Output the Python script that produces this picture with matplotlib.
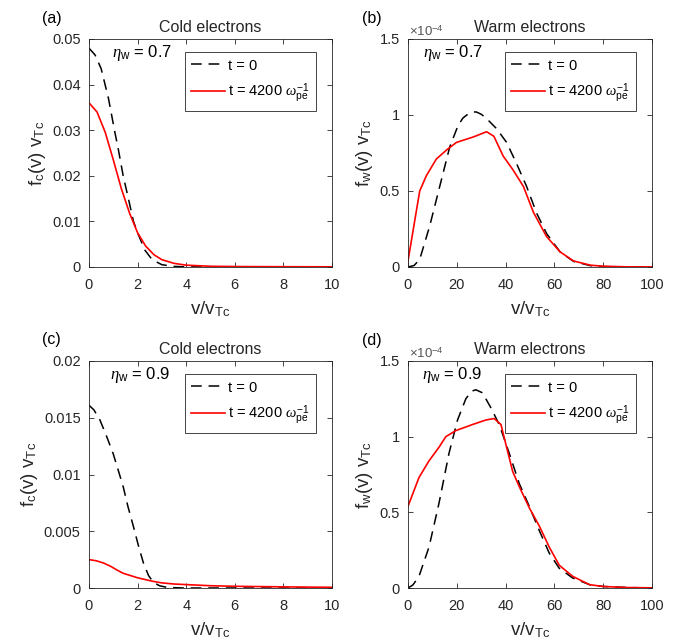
import numpy as np
import matplotlib.pyplot as plt

plt.rcParams['font.family'] = ['Liberation Sans', 'DejaVu Sans']
plt.rcParams['mathtext.fontset'] = 'custom'
plt.rcParams['mathtext.rm'] = 'Liberation Sans'
plt.rcParams['mathtext.it'] = 'Liberation Serif:italic'

# cold electrons, eta_w = 0.7
vc_a0 = [0, 0.25, 0.5, 0.8, 1.07, 1.2, 1.41, 1.6, 1.83, 2.0, 2.3, 2.6, 3.0, 3.5, 4.0, 5.0, 6.0, 8.0, 10.0]
fc_a0 = [0.048, 0.0465, 0.0435, 0.037, 0.0294, 0.026, 0.0199, 0.0155, 0.0100, 0.0075, 0.0037, 0.0016, 0.0005, 0.00012, 0.00003, 0.0, 0.0, 0.0, 0.0]
vc_a1 = [0, 0.33, 0.67, 1.0, 1.33, 1.67, 2.0, 2.33, 2.67, 3.0, 3.5, 4.0, 5.0, 6.0, 8.0, 10.0]
fc_a1 = [0.036, 0.034, 0.0295, 0.0235, 0.0172, 0.0118, 0.0075, 0.0046, 0.0027, 0.0016, 0.0008, 0.0004, 0.00016, 0.0001, 0.00006, 0.00004]

# warm electrons, eta_w = 0.7 (units of 1e-4)
vw_b0 = [0, 2.5, 4.8, 8.9, 13.0, 17.1, 20.5, 22.5, 24.5, 26.5, 28.0, 30.0, 32.0, 36.3, 40.4, 44.5, 48.6, 52.7, 56.8, 62.3, 67.8, 74.7, 80, 90, 100]
fw_b0 = [0, 0.01, 0.05, 0.27, 0.53, 0.79, 0.93, 0.98, 1.005, 1.02, 1.02, 1.005, 0.98, 0.91, 0.82, 0.68, 0.53, 0.355, 0.22, 0.10, 0.037, 0.009, 0.003, 0.0005, 0]
vw_b1 = [0, 2.5, 4.8, 7.5, 11.6, 15.8, 19.9, 26.7, 32.2, 35.2, 39.0, 43.0, 47.3, 51.4, 56.8, 62.3, 67.8, 74.7, 80, 90, 100]
fw_b1 = [0.04, 0.28, 0.50, 0.60, 0.71, 0.77, 0.82, 0.855, 0.89, 0.86, 0.73, 0.64, 0.53, 0.36, 0.20, 0.10, 0.04, 0.012, 0.005, 0.001, 0.0005]

# cold electrons, eta_w = 0.9
vc_c0 = [0, 0.2, 0.45, 0.7, 1.0, 1.2, 1.41, 1.6, 1.83, 2.05, 2.24, 2.45, 2.65, 2.9, 3.2, 3.6, 4.0, 5.0, 6.0, 8.0, 10.0]
fc_c0 = [0.0161, 0.0157, 0.0148, 0.0135, 0.0118, 0.0104, 0.0089, 0.0072, 0.0054, 0.0036, 0.0022, 0.0011, 0.0005, 0.0002, 0.00006, 0.00002, 0.0, 0.0, 0.0, 0.0, 0.0]
vc_c1 = [0, 0.3, 0.6, 0.9, 1.14, 1.4, 1.7, 2.0, 2.3, 2.6, 3.0, 3.5, 4.0, 5.0, 6.0, 8.0, 10.0]
fc_c1 = [0.0025, 0.0024, 0.0022, 0.0019, 0.0016, 0.0013, 0.0011, 0.0009, 0.00075, 0.0006, 0.00045, 0.00035, 0.0003, 0.0002, 0.00015, 0.0001, 0.00006]

# warm electrons, eta_w = 0.9 (units of 1e-4)
vw_d0 = [0, 2.0, 4.5, 8.6, 12.7, 16.8, 20.3, 23.7, 26.0, 27.8, 30.5, 34.0, 37.4, 41.5, 45.6, 49.7, 53.8, 57.9, 62.0, 67.5, 74.4, 80, 90, 100]
fw_d0 = [0, 0.02, 0.077, 0.27, 0.56, 0.89, 1.11, 1.25, 1.30, 1.31, 1.29, 1.19, 1.08, 0.89, 0.69, 0.54, 0.38, 0.23, 0.13, 0.066, 0.022, 0.01, 0.003, 0]
vw_d1 = [0, 4.5, 8.6, 12.7, 15.5, 19.6, 26.4, 31.9, 35.3, 38.1, 40.1, 42.9, 45.6, 49.7, 53.8, 57.9, 62.0, 67.5, 74.4, 80, 90, 100]
fw_d1 = [0.54, 0.73, 0.84, 0.93, 1.0, 1.04, 1.08, 1.11, 1.12, 1.08, 0.95, 0.77, 0.67, 0.53, 0.41, 0.27, 0.15, 0.077, 0.022, 0.01, 0.003, 0.001]

panels = [
    ('(a)', 'Cold electrons', '0.7', 'c', vc_a0, fc_a0, vc_a1, fc_a1, 10, 0.05, [0, 0.01, 0.02, 0.03, 0.04, 0.05], ['0', '0.01', '0.02', '0.03', '0.04', '0.05'], False, 0.095),
    ('(b)', 'Warm electrons', '0.7', 'w', vw_b0, fw_b0, vw_b1, fw_b1, 100, 1.5, [0, 0.5, 1, 1.5], ['0', '0.5', '1', '1.5'], True, 0.06),
    ('(c)', 'Cold electrons', '0.9', 'c', vc_c0, fc_c0, vc_c1, fc_c1, 10, 0.02, [0, 0.005, 0.01, 0.015, 0.02], ['0', '0.005', '0.01', '0.015', '0.02'], False, 0.086),
    ('(d)', 'Warm electrons', '0.9', 'w', vw_d0, fw_d0, vw_d1, fw_d1, 100, 1.5, [0, 0.5, 1, 1.5], ['0', '0.5', '1', '1.5'], True, 0.057),
]

rects = [
    [89 / 681, 1 - 267 / 642, 243 / 681, 228 / 642],
    [408 / 681, 1 - 267 / 642, 244 / 681, 228 / 642],
    [89 / 681, 1 - 588 / 642, 243 / 681, 227 / 642],
    [408 / 681, 1 - 588 / 642, 244 / 681, 227 / 642],
]
letter_pos = [(42, 18), (362, 18), (42, 340), (362, 341)]

fig = plt.figure(figsize=(6.81, 6.42), dpi=100)
axcol = '#262626'

for p, rect, lp in zip(panels, rects, letter_pos):
    letter, title, eta, sub, x0, y0, x1, y1, xmax, ymax, yt, ytl, scaled, etax = p
    ax = fig.add_axes(rect)
    ax.plot(x0, y0, color='k', ls=(0, (7, 4.5)), lw=1.1, label='t = 0')
    ax.plot(x1, y1, color='r', lw=1.2, label=r't = 4200 $\omega_\mathregular{pe}^\mathregular{-1}$')
    ax.set_xlim(0, xmax)
    ax.set_ylim(0, ymax)
    ax.set_xticks(np.linspace(0, xmax, 6))
    ax.set_xticklabels([f'{v:g}' for v in np.linspace(0, xmax, 6)])
    ax.set_yticks(yt)
    ax.set_yticklabels(ytl)
    ax.tick_params(direction='in', length=3.5, width=0.6, colors=axcol, labelsize=10.5,
                   top=True, right=True)
    ax.tick_params(axis='x', pad=8)
    ax.tick_params(axis='y', pad=6)
    for s in ax.spines.values():
        s.set_color(axcol)
        s.set_linewidth(0.6)
    ax.set_title(title, fontsize=11.5, color=axcol, pad=5)
    ax.set_xlabel(r'v/v$_\mathregular{Tc}$', fontsize=13.5, color=axcol, labelpad=5)
    ax.set_ylabel(r'f$_\mathregular{%s}$(v) v$_\mathregular{Tc}$' % sub, fontsize=13.5, color=axcol, labelpad=3)
    ax.text(etax, 0.94, r'$\eta_\mathregular{w}$ = ' + eta, transform=ax.transAxes,
            fontsize=12, va='center', ha='left', color='k')
    if scaled:
        ax.text(0.005, 1.0, r'$\times$10$^\mathregular{-4}$', transform=ax.transAxes,
                fontsize=9.5, va='bottom', ha='left', color='#555555')
    leg = ax.legend(loc='upper right', bbox_to_anchor=(0.934, 0.943), borderaxespad=0,
                    fontsize=10.5, fancybox=False, framealpha=1, edgecolor=axcol,
                    handlelength=2.3, borderpad=0.45, labelspacing=0.6, handletextpad=0.2)
    leg.get_frame().set_linewidth(0.6)
    fig.text(lp[0] / 681, 1 - lp[1] / 642, letter, fontsize=11.5, va='center', ha='left', color='k')

fig.savefig('out.png', dpi=100)
